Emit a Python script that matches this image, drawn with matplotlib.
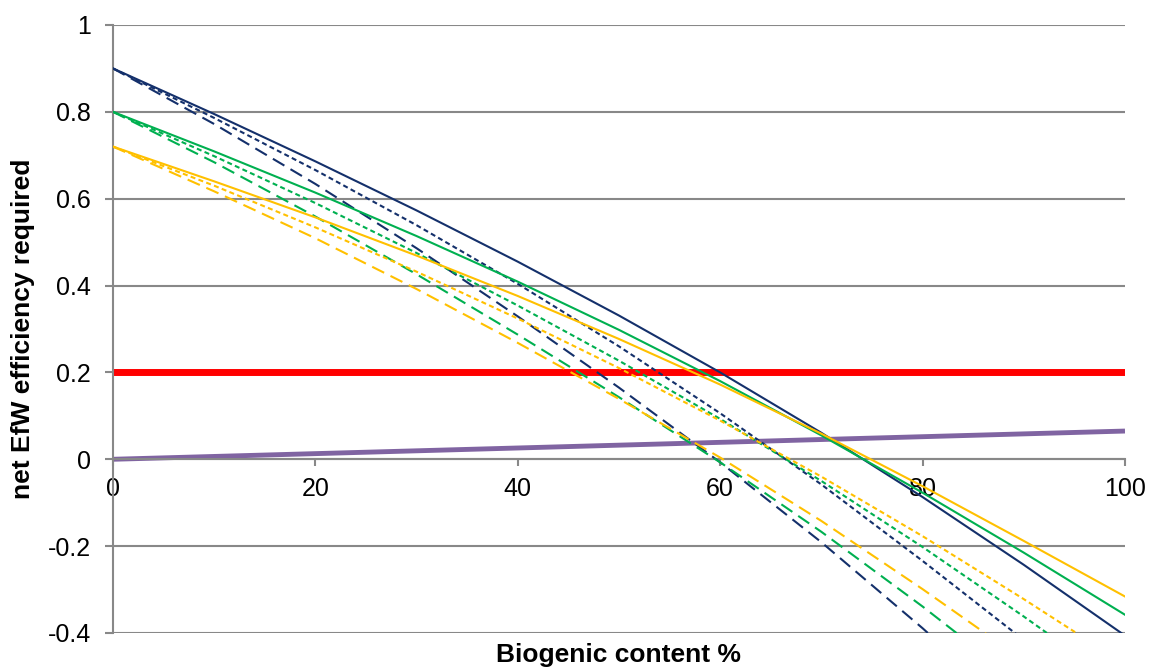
"""Required net EfW efficiency against biogenic content."""

import matplotlib
import matplotlib.pyplot as plt

matplotlib.use("Agg")

plt.rcParams["font.family"] = ["Liberation Sans", "DejaVu Sans"]

# Data
biogenic = [0, 10, 20, 30, 40, 50, 60, 70, 80, 90, 100]

navy_solid = [0.90, 0.795, 0.686, 0.573, 0.455, 0.331, 0.200, 0.061, -0.087, -0.243, -0.406]
navy_short = [0.90, 0.786, 0.666, 0.539, 0.404, 0.260, 0.106, -0.058, -0.234, -0.416, -0.60]
navy_long = [0.90, 0.772, 0.634, 0.486, 0.329, 0.165, -0.007, -0.191, -0.389, -0.599, -0.819]

green_solid = [0.80, 0.709, 0.614, 0.514, 0.409, 0.298, 0.180, 0.055, -0.077, -0.215, -0.358]
green_short = [0.80, 0.698, 0.590, 0.475, 0.354, 0.227, 0.093, -0.050, -0.202, -0.362, -0.528]
green_long = [0.80, 0.684, 0.559, 0.426, 0.287, 0.143, -0.007, -0.167, -0.339, -0.521, -0.711]

orange_solid = [0.72, 0.640, 0.557, 0.469, 0.376, 0.277, 0.172, 0.059, -0.062, -0.188, -0.316]
orange_short = [0.72, 0.630, 0.534, 0.432, 0.324, 0.210, 0.089, -0.040, -0.177, -0.322, -0.472]
orange_long = [0.72, 0.617, 0.509, 0.392, 0.268, 0.139, 0.004, -0.142, -0.299, -0.463, -0.633]

target_x = [0, 100]
target_y = [0.2, 0.2]
baseline_x = [0, 100]
baseline_y = [0.0, 0.065]

x_ticks = [0, 20, 40, 60, 80, 100]
y_ticks = [-0.4, -0.2, 0, 0.2, 0.4, 0.6, 0.8, 1.0]
y_tick_labels = ["-0.4", "-0.2", "0", "0.2", "0.4", "0.6", "0.8", "1"]

NAVY = "#14306b"
GREEN = "#00b050"
ORANGE = "#ffc000"
GREY = "#888888"

SOLID = "-"
SHORT = (0, (2.4, 1.6))
LONG = (0, (6.4, 3.4))

fig = plt.figure(figsize=(11.49, 6.68), dpi=100)
ax = fig.add_axes([0.0983, 0.0524, 0.8808, 0.9102])

ax.plot(target_x, target_y, color="#ff0000", linewidth=5, solid_capstyle="butt", zorder=2)
ax.plot(baseline_x, baseline_y, color="#8064a2", linewidth=3.5, solid_capstyle="butt", zorder=2)

series = [
    (navy_solid, NAVY, SOLID),
    (navy_short, NAVY, SHORT),
    (navy_long, NAVY, LONG),
    (green_solid, GREEN, SOLID),
    (green_short, GREEN, SHORT),
    (green_long, GREEN, LONG),
    (orange_solid, ORANGE, SOLID),
    (orange_short, ORANGE, SHORT),
    (orange_long, ORANGE, LONG),
]
for values, colour, style in series:
    ax.plot(biogenic, values, color=colour, linestyle=style, linewidth=1.5,
            solid_joinstyle="round", zorder=3)

ax.set_xlim(0, 100)
ax.set_ylim(-0.4, 1.0)

ax.set_yticks(y_ticks)
ax.set_yticklabels(y_tick_labels)
ax.set_xticks(x_ticks)
ax.set_xticklabels([str(t) for t in x_ticks])

ax.grid(True, axis="y", color=GREY, linewidth=1.5, zorder=1)
ax.set_axisbelow(True)

for side in ["top", "right"]:
    ax.spines[side].set_visible(False)
ax.spines["left"].set_color(GREY)
ax.spines["left"].set_linewidth(1.5)
ax.spines["bottom"].set_position(("data", 0))
ax.spines["bottom"].set_color(GREY)
ax.spines["bottom"].set_linewidth(1.5)

ax.tick_params(axis="y", direction="out", length=6, width=1.5, color=GREY,
               labelsize=18, pad=10)
ax.tick_params(axis="x", direction="out", length=5, width=1.5, color=GREY,
               labelsize=18, pad=8)

fig.text(0.0200, 0.508, "net EfW efficiency required", rotation=90,
         ha="center", va="center", fontsize=19, fontweight="bold")
fig.text(0.5387, 0.0195, "Biogenic content %", ha="center", va="center",
         fontsize=19, fontweight="bold")

fig.savefig("out.png", dpi=100)
